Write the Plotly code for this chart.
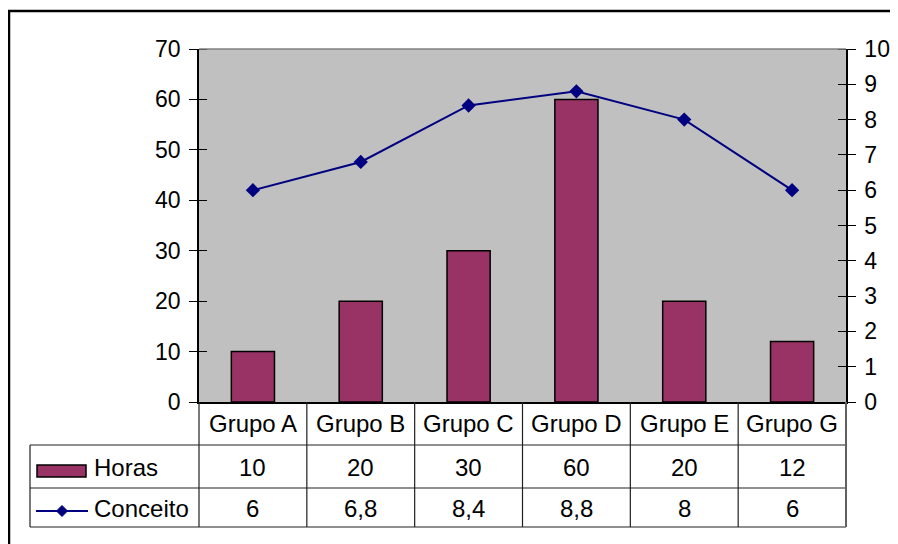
import plotly.graph_objects as go

categories = ["Grupo A", "Grupo B", "Grupo C", "Grupo D", "Grupo E", "Grupo G"]
horas = [10, 20, 30, 60, 20, 12]
conceito = [6, 6.8, 8.4, 8.8, 8, 6]
series_names = ["Horas", "Conceito"]
left_ticks = [0, 10, 20, 30, 40, 50, 60, 70]
right_ticks = [0, 1, 2, 3, 4, 5, 6, 7, 8, 9, 10]

FONT = "Liberation Sans, Arial, sans-serif"
FS = 23
FS_TABLE = 24
BAR_COLOR = "#993366"
LINE_COLOR = "#000080"

OFF = 8  # page body margin
W, H = 898 - OFF, 544 - OFF
# plot area in screen pixels
X0, X1, Y0, Y1 = 199, 846, 49, 402
L, T = X0 - OFF, Y0 - OFF
R, B = W + OFF - X1, H + OFF - Y1
PW, PH = X1 - X0, Y1 - Y0


def px(X):
    return (X - X0) / PW


def py(Y):
    return (Y1 - Y) / PH


def fmt(v):
    return f"{v:g}".replace(".", ",")


fig = go.Figure()
fig.add_trace(go.Bar(
    x=categories, y=horas, name=series_names[0], width=0.4,
    marker=dict(color=BAR_COLOR, line=dict(color="black", width=1.5)),
    yaxis="y",
))
fig.add_trace(go.Scatter(
    x=categories, y=conceito, name=series_names[1], mode="lines+markers",
    line=dict(color=LINE_COLOR, width=2),
    marker=dict(symbol="diamond", size=11, color=LINE_COLOR),
    yaxis="y2",
))

shapes = []
line_col = "#202020"
# outer frame
shapes.append(dict(type="rect", xref="paper", yref="paper",
                   x0=px(9), x1=px(910), y0=py(11), y1=py(560),
                   line=dict(color="black", width=2.5), layer="below"))
# plot area top border (gray)
shapes.append(dict(type="line", xref="paper", yref="paper",
                   x0=0, x1=1, y0=1, y1=1, line=dict(color="#808080", width=1.5)))
# table horizontal lines
for Y in (445, 488, 527):
    shapes.append(dict(type="line", xref="paper", yref="paper",
                       x0=px(30), x1=1, y0=py(Y), y1=py(Y),
                       line=dict(color=line_col, width=1.2)))
# table left border
shapes.append(dict(type="line", xref="paper", yref="paper",
                   x0=px(30), x1=px(30), y0=py(445), y1=py(527),
                   line=dict(color=line_col, width=1.2)))
# category column lines
n = len(categories)
for k in range(n + 1):
    shapes.append(dict(type="line", xref="paper", yref="paper",
                       x0=k / n, x1=k / n, y0=0, y1=py(527),
                       line=dict(color=line_col if k < n else "#606060", width=1.2 if k < n else 2)))
# legend keys
shapes.append(dict(type="rect", xref="paper", yref="paper",
                   x0=px(37), x1=px(86), y0=py(465), y1=py(477),
                   fillcolor=BAR_COLOR, line=dict(color="black", width=1.5)))
shapes.append(dict(type="line", xref="paper", yref="paper",
                   x0=px(36), x1=px(88), y0=py(511), y1=py(511),
                   line=dict(color=LINE_COLOR, width=2)))
dx, dy = 5.5, 5.5
cx, cy = 62, 511
shapes.append(dict(type="path", xref="paper", yref="paper",
                   path=f"M {px(cx - dx)} {py(cy)} L {px(cx)} {py(cy - dy)} L {px(cx + dx)} {py(cy)} L {px(cx)} {py(cy + dy)} Z",
                   fillcolor=LINE_COLOR, line=dict(color=LINE_COLOR, width=1)))

annotations = []
tfont = dict(family=FONT, size=FS, color="black")
bfont = dict(family=FONT, size=FS_TABLE, color="black")
for i, c in enumerate(categories):
    annotations.append(dict(x=c, xref="x", y=py(423), yref="paper", text=c,
                            showarrow=False, font=bfont, xanchor="center", yanchor="middle"))
    annotations.append(dict(x=c, xref="x", y=py(467), yref="paper", text=fmt(horas[i]),
                            showarrow=False, font=bfont, xanchor="center", yanchor="middle"))
    annotations.append(dict(x=c, xref="x", y=py(508), yref="paper", text=fmt(conceito[i]),
                            showarrow=False, font=bfont, xanchor="center", yanchor="middle"))
annotations.append(dict(x=px(92), xref="paper", y=py(467), yref="paper", text=series_names[0],
                        showarrow=False, font=bfont, xanchor="left", yanchor="middle"))
annotations.append(dict(x=px(92), xref="paper", y=py(509), yref="paper", text=series_names[1],
                        showarrow=False, font=bfont, xanchor="left", yanchor="middle"))

fig.update_layout(
    template="none",
    autosize=False,
    width=W, height=H,
    margin=dict(l=L, r=R, t=T, b=B, pad=0, autoexpand=False),
    paper_bgcolor="white", plot_bgcolor="#C0C0C0",
    showlegend=False,
    font=dict(family=FONT, size=FS, color="black"),
    shapes=shapes, annotations=annotations,
    xaxis=dict(type="category", categoryorder="array", categoryarray=categories,
               range=[-0.5, n - 0.5], showticklabels=False, ticks="",
               showline=True, linecolor="black", linewidth=1.5, showgrid=False,
               zeroline=False, fixedrange=True, automargin=False),
    yaxis=dict(range=[0, 70], tickvals=left_ticks, ticks="outside", ticklen=8,
               tickcolor="black", tickwidth=1.2,
               minor=dict(tickvals=left_ticks, ticks="inside", ticklen=8, tickcolor="black", tickwidth=1.2),
               showline=True, linecolor="black", linewidth=1.5, showgrid=False,
               zeroline=False, ticklabelstandoff=4, tickfont=tfont, automargin=False),
    yaxis2=dict(range=[0, 10], tickvals=right_ticks, overlaying="y", side="right",
                ticks="outside", ticklen=8, tickcolor="black", tickwidth=1.2,
                minor=dict(tickvals=right_ticks, ticks="inside", ticklen=8, tickcolor="black", tickwidth=1.2),
                showline=True, linecolor="black", linewidth=1.5, showgrid=False,
                zeroline=False, ticklabelstandoff=4, tickfont=tfont, automargin=False),
)

fig.write_html("out.html", config={"responsive": False, "displayModeBar": False})
